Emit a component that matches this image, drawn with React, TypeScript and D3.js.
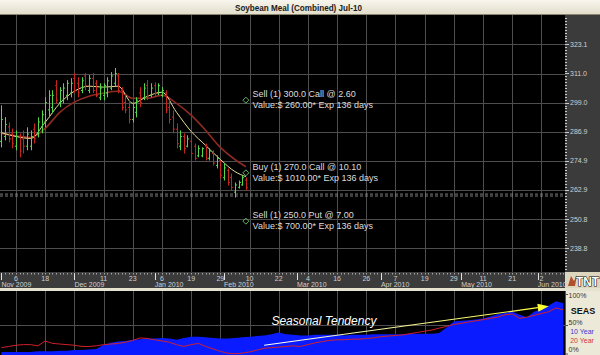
import React from "react";
import * as d3 from "d3";

// ---------- data ----------
const title = "Soybean Meal (Combined) Jul-10";
const firstBarDate = "2009-11-02";
const calendarEnd = "2010-07-01";
const holidays = ["2009-11-26", "2009-12-25", "2010-01-01", "2010-01-18"];

const opens = [283,285,289,286,281,285,284,281,281,288,286,289,291,296,297,306,299,300,302,303,309,307,304,310,304,309,307,301,302,303,305,307,310,304,299,297,292,295,303,301,306,302,306,303,302,303,297,293,288,281,285,281,283,281,277,277,281,276,278,273,275,268,271,268,262,264,265,267];
const highs = [297.9,293,290.8,288.3,287.5,286.3,287.5,288.8,287.5,290.4,292.9,295.8,301.2,304.1,304.1,308.3,305.4,307,308.3,309.1,311.2,309.5,309.5,311.2,310.4,311.2,308.3,307,307,309.5,311.6,313.3,311.2,305.4,302.9,300,298.7,301.2,305.4,307,308.3,307,307.4,307,305.4,304.1,300,295.8,290.4,287.5,286.3,285.5,284.6,282.1,281.3,280.5,282.1,280.1,279.3,277.2,275.1,273.9,271.8,269.7,266,266.8,268.9,268.1];
const lows = [280.5,283.4,282.6,280.1,279.3,276.4,278,279.3,279.3,282.1,284.6,286.3,288.8,292.9,294.6,298.7,297.1,298.7,300,301.2,302.9,301.2,302.9,304.1,302.9,302.9,301.2,300,300,301.2,304.1,305.4,302.9,295.8,294.6,290.4,290.8,292.9,297.1,300,300,301.2,301.2,302.1,301.2,294.6,290.4,286.3,280.1,279.3,278,280.5,276.4,275.1,276.4,276.4,275.1,275.1,273,271.8,267.6,266.8,264.7,262.7,259.8,263.5,264.7,262.7];
const closes = [292,290,284,282,285,279,281,286,285,284,291,294,299,302,302,300,304,305,307,307,304,303,308,306,309,304,302,305,306,308,310,311,304,297,296,292,297,300,299,305,302,305,303,306,304,296,292,288,282,285,280,284,278,276,280,280,276,279,274,276,269,272,266,264,265,266,268,264];

// moving averages read at these bar indices
const maIndex = [0,4,8,12,16,20,24,28,32,36,40,44,48,52,56,60,64,67];
const maFast = [286.6,285.0,284.2,290.9,298.7,303.7,305.8,305.4,305.8,298.7,301.6,303.3,295.0,287.1,281.3,275.5,270.5,268.4];
const maSlow = [286.3,285.3,284.6,288.4,295.0,299.2,301.6,302.9,303.7,300.8,300.8,302.1,298.7,293.8,287.5,280.5,275.5,272.5];

const priceTicks = [323.1, 311.0, 299.0, 286.9, 274.9, 262.9, 250.8, 238.8];
const lastPriceLines = [261.2, 260.4];

const gridDates = ["2009-11-06","2009-11-18","2009-12-01","2009-12-11","2009-12-23","2010-01-06","2010-01-19","2010-01-29","2010-02-10","2010-02-22","2010-03-04","2010-03-16","2010-03-26","2010-04-07","2010-04-19","2010-04-29","2010-05-11","2010-05-21","2010-06-02"];

const tradeStrikes = [300, 270, 250];
const tradeLabels = ["Sell (1) 300.0 Call @ 2.60", "Buy (1) 270.0 Call @ 10.10", "Sell (1) 250.0 Put @ 7.00"];
const tradeValues = ["Value:$ 260.00* Exp 136 days", "Value:$ 1010.00* Exp 136 days", "Value:$ 700.00* Exp 136 days"];

// seasonal panel, one value every 2 trading days (percent)
const seasonalStep = 2;
const seas10 = [5,5,5,5,5,6,6,6,7,7,8,8,9,10,17,20,22,23,25,26,27,27,28,27,25,28,30,30,29,28,27,27,28,29,30,31,32,34,37,34,33,32,32,33,33,33,33,32,33,33,33,34,34,34,34,34,35,35,35,35,36,45,55,56,57,58,60,63,67,69,71,66,62,71,76,81,88,85];
const seas20 = [12,14,16,17,17,15,23,19,18,17,16,14,14,15,17,18,19,21,24,28,27,25,23,21,17,14,17,19,14,10,6,3,2,3,5,8,11,12,13,14,15,14,17,20,22,24,25,25,26,26,27,28,30,31,32,33,35,37,39,41,44,47,50,52,54,56,58,60,62,66,67,60,62,65,68,71,77,74];
const seasTicks = [100, 50, 0];
const tendencyStart = { idx: 72, pct: 16 };
const tendencyEnd = { idx: 150, pct: 80 };
const tendencyText = { idx: 74, pct: 50, label: "Seasonal Tendency" };

// ---------- layout ----------
const W = 600, H = 355;
const plotR = 565;
const mainTop = 15, mainBot = 272;
const axBot = 288;
const lowTop = 291;
const FONT = "'Liberation Sans', Arial, sans-serif";

export default function App() {
  const parse = d3.timeParse("%Y-%m-%d");
  const fmt = d3.timeFormat("%Y-%m-%d");
  const hol = new Set(holidays);
  const days = d3.timeDay
    .range(parse(firstBarDate)!, parse(calendarEnd)!)
    .filter((d) => d.getDay() !== 0 && d.getDay() !== 6 && !hol.has(fmt(d)));
  const idxOf = (s: string) => days.findIndex((d) => fmt(d) === s);
  const nVisible = 154;

  const x = d3.scaleLinear().domain([0, nVisible]).range([1.4, 1.4 + nVisible * 3.649]);
  const y = d3.scaleLinear().domain([238.8, 323.1]).range([248.3, 44.3]);
  const yS = d3.scaleLinear().domain([0, 100]).range([355, 294]);

  const gridIdx = gridDates.map(idxOf);
  const monthStarts: { idx: number; label: string }[] = [];
  days.forEach((d, i) => {
    if (i > nVisible) return;
    if (i === 0 || days[i - 1].getMonth() !== d.getMonth()) {
      monthStarts.push({ idx: i, label: d3.timeFormat("%b %Y")(d) });
    }
  });
  const monthIdxSet = new Set(monthStarts.map((m) => m.idx));

  const bars = opens.map((o, i) => ({ i, o, h: highs[i], l: lows[i], c: closes[i] }));
  const maLine = d3.line<number>().x((_, k) => x(maIndex[k])).y((v) => y(v)).curve(d3.curveMonotoneX);

  const sArea = d3.area<number>().x((_, k) => x(k * seasonalStep)).y0(355).y1((v) => yS(v));
  const sLine = d3.line<number>().x((_, k) => x(k * seasonalStep)).y((v) => yS(v));

  // right axis minor ticks
  const step = (323.1 - 238.8) / 70;
  const minor: { v: number; major: boolean }[] = [];
  for (let k = -20; k <= 100; k++) {
    const v = 238.8 + k * step;
    const yy = y(v);
    if (yy > mainTop + 2 && yy < mainBot - 1) minor.push({ v, major: k % 10 === 0 });
  }

  const lastIdx = opens.length - 1;
  const dx = x(lastIdx);

  const ax1 = x(tendencyStart.idx), ay1 = yS(tendencyStart.pct);
  const ax2 = x(tendencyEnd.idx), ay2 = yS(tendencyEnd.pct);
  const ang = Math.atan2(ay2 - ay1, ax2 - ax1);
  const ahL = 11, ahW = 4;
  const baseX = ax2 - ahL * Math.cos(ang), baseY = ay2 - ahL * Math.sin(ang);
  const arrowPts = [
    [ax2, ay2],
    [baseX - ahW * Math.sin(ang), baseY + ahW * Math.cos(ang)],
    [baseX + ahW * Math.sin(ang), baseY - ahW * Math.cos(ang)],
  ].map((p) => p.join(",")).join(" ");

  return (
    <svg width={W} height={H} style={{ position: "absolute", left: 0, top: 0, display: "block" }} fontFamily={FONT}>
      <defs>
        <linearGradient id="titleGrad" x1="0" y1="0" x2="0" y2="1">
          <stop offset="0" stopColor="#f8f6ee" />
          <stop offset="1" stopColor="#e2decb" />
        </linearGradient>
        <linearGradient id="tendGrad" gradientUnits="userSpaceOnUse" x1={ax1} y1={ay1} x2={ax2} y2={ay2}>
          <stop offset="0" stopColor="#ffffff" />
          <stop offset="0.25" stopColor="#f4f4c0" />
          <stop offset="1" stopColor="#ffff40" />
        </linearGradient>
        <clipPath id="mainClip">
          <rect x={0} y={mainTop} width={plotR} height={mainBot - mainTop} />
        </clipPath>
        <clipPath id="lowClip">
          <rect x={0} y={lowTop} width={plotR} height={H - lowTop} />
        </clipPath>
      </defs>

      {/* backgrounds */}
      <rect x={0} y={0} width={W} height={H} fill="#000" />
      <rect x={0} y={0} width={W} height={14} fill="url(#titleGrad)" />
      <line x1={0} x2={W} y1={14.5} y2={14.5} stroke="#8a8670" />
      <text x={298.5} y={10.5} textAnchor="middle" fontSize={9.5} fontWeight="bold" fill="#1a1a1a" textLength={127} lengthAdjust="spacingAndGlyphs">{title}</text>
      <rect x={plotR} y={mainTop} width={W - plotR} height={mainBot - mainTop} fill="#3b3b3b" />
      <rect x={0} y={mainBot} width={plotR} height={axBot - mainBot} fill="#3b3b3b" />
      <rect x={0} y={axBot} width={W} height={lowTop - axBot} fill="#e6e2d0" />
      <rect x={plotR} y={lowTop} width={W - plotR} height={H - lowTop} fill="#ece9d8" />

      {/* main grid */}
      <g stroke="#4e4e4e" strokeWidth={1}>
        {gridIdx.map((gi, k) => (
          <line key={"vg" + k} x1={Math.round(x(gi)) + 0.5} x2={Math.round(x(gi)) + 0.5} y1={mainTop} y2={mainBot} />
        ))}
        {priceTicks.map((p, k) => (
          <line key={"hg" + k} x1={0} x2={plotR} y1={Math.round(y(p)) + 0.5} y2={Math.round(y(p)) + 0.5} />
        ))}
      </g>
      <g stroke="#9a9a9a" strokeWidth={0.8} strokeDasharray="3,2">
        {lastPriceLines.map((p, k) => (
          <line key={"lp" + k} x1={0} x2={plotR} y1={y(p)} y2={y(p)} />
        ))}
      </g>

      {/* bars + MAs */}
      <g clipPath="url(#mainClip)">
        <path d={maLine(maSlow) || ""} fill="none" stroke="#8e2a22" strokeWidth={1.6} />
        <path d={maLine(maFast) || ""} fill="none" stroke="#e6dc9a" strokeWidth={1} />
        {bars.map((b) => {
          const cx = Math.round(x(b.i)) + 0.5;
          const col = b.c >= b.o ? "#52d84a" : "#c8241e";
          return (
            <g key={b.i} stroke={col} strokeWidth={1}>
              <line x1={cx} x2={cx} y1={y(b.h)} y2={y(b.l)} />
              <line x1={cx - 1.5} x2={cx} y1={y(b.o)} y2={y(b.o)} />
              <line x1={cx} x2={cx + 1.5} y1={y(b.c)} y2={y(b.c)} />
            </g>
          );
        })}
      </g>

      {/* trade annotations */}
      {tradeStrikes.map((s, k) => {
        const yy = y(s);
        return (
          <g key={"tr" + k}>
            <path d={`M${dx},${yy - 3}L${dx + 3},${yy}L${dx},${yy + 3}L${dx - 3},${yy}Z`} fill="none" stroke="#6cc46c" strokeWidth={0.9} />
            <text x={dx + 6.7} y={yy - 3} fontSize={9} fill="#dcdcdc">{tradeLabels[k]}</text>
            <text x={dx + 6.7} y={yy + 8} fontSize={9} fill="#dcdcdc">{tradeValues[k]}</text>
          </g>
        );
      })}

      {/* right price axis */}
      <g stroke="#c8c8c8" strokeWidth={1}>
        {minor.map((m, k) => (
          <line key={"mt" + k} x1={plotR} x2={plotR + (m.major ? 4 : 2)} y1={Math.round(y(m.v)) + 0.5} y2={Math.round(y(m.v)) + 0.5} />
        ))}
      </g>
      {priceTicks.map((p, k) => (
        <text key={"pl" + k} x={plotR + 5} y={y(p) + 2.5} fontSize={7} fill="#cfcfcf">{p.toFixed(1)}</text>
      ))}

      {/* x axis */}
      <g stroke="#a8a8a8" strokeWidth={1}>
        {days.slice(0, nVisible + 1).map((_, i) => (
          <line key={"dt" + i} x1={Math.round(x(i)) + 0.5} x2={Math.round(x(i)) + 0.5} y1={mainBot + 1} y2={mainBot + 2.5} />
        ))}
      </g>
      <g stroke="#e0e0e0" strokeWidth={1}>
        {monthStarts.map((m, k) => (
          <line key={"mk" + k} x1={Math.round(x(m.idx)) + 0.5} x2={Math.round(x(m.idx)) + 0.5} y1={mainBot + 1} y2={mainBot + 8} />
        ))}
      </g>
      {gridIdx.map((gi, k) =>
        monthIdxSet.has(gi) ? null : (
          <text key={"dl" + k} x={x(gi)} y={mainBot + 8.5} fontSize={7} fill="#d0d0d0" textAnchor="middle">
            {d3.timeFormat("%-d")(days[gi])}
          </text>
        )
      )}
      {monthStarts.map((m, k) => (
        <text key={"ml" + k} x={x(m.idx)} y={mainBot + 14.5} fontSize={7} fill="#d0d0d0">{m.label}</text>
      ))}

      {/* TNT logo */}
      <rect x={plotR} y={mainBot} width={W - plotR} height={axBot - mainBot} fill="#ddd6bf" />
      <path d={`M${plotR + 3},${mainBot + 14} L${plotR + 6},${mainBot + 4} L${plotR + 9},${mainBot + 9} L${plotR + 12},${mainBot + 3} L${plotR + 10},${mainBot + 14} Z`} fill="#b0502a" />
      <text x={plotR + 11} y={mainBot + 13.5} fontSize={13} fontWeight="bold" fill="#ffffff" stroke="#000" strokeWidth={1.2} paintOrder="stroke" textLength={23} lengthAdjust="spacingAndGlyphs">TNT</text>

      {/* lower seasonal panel */}
      <g stroke="#4e4e4e" strokeWidth={1}>
        {gridIdx.map((gi, k) => (
          <line key={"lvg" + k} x1={Math.round(x(gi)) + 0.5} x2={Math.round(x(gi)) + 0.5} y1={lowTop} y2={H} />
        ))}
        <line x1={0} x2={plotR} y1={Math.round(yS(50)) + 0.5} y2={Math.round(yS(50)) + 0.5} />
      </g>
      <g clipPath="url(#lowClip)">
        <path d={sArea(seas10) || ""} fill="#0a1cff" />
        <path d={sLine(seas20) || ""} fill="none" stroke="#d0202a" strokeWidth={1} />
        <line x1={ax1} y1={ay1} x2={baseX} y2={baseY} stroke="url(#tendGrad)" strokeWidth={1.2} />
        <polygon points={arrowPts} fill="#ffff30" />
      </g>
      <text x={x(tendencyText.idx)} y={yS(tendencyText.pct)} fontSize={12} fontStyle="italic" fill="#ffffff">{tendencyText.label}</text>

      {/* seasonal legend */}
      <g stroke="#555" strokeWidth={1}>
        {seasTicks.map((t, k) => (
          <line key={"st" + k} x1={plotR} x2={plotR + 3} y1={Math.min(Math.round(yS(t)) + 0.5, H - 1)} y2={Math.min(Math.round(yS(t)) + 0.5, H - 1)} />
        ))}
        <line x1={plotR + 0.5} x2={plotR + 0.5} y1={lowTop} y2={H} />
      </g>
      <text x={plotR + 3.5} y={297.5} fontSize={7} fill="#333">100%</text>
      <text x={plotR + 3.5} y={324.8} fontSize={7} fill="#333">50%</text>
      <text x={plotR + 3.5} y={352} fontSize={7} fill="#333">0%</text>
      <text x={583} y={313.5} fontSize={9} fontWeight="bold" fill="#111" textAnchor="middle">SEAS</text>
      <text x={582} y={333.5} fontSize={7} fill="#3a3ad0" textAnchor="middle">10 Year</text>
      <text x={582} y={342.5} fontSize={7} fill="#d03a3a" textAnchor="middle">20 Year</text>
    </svg>
  );
}
